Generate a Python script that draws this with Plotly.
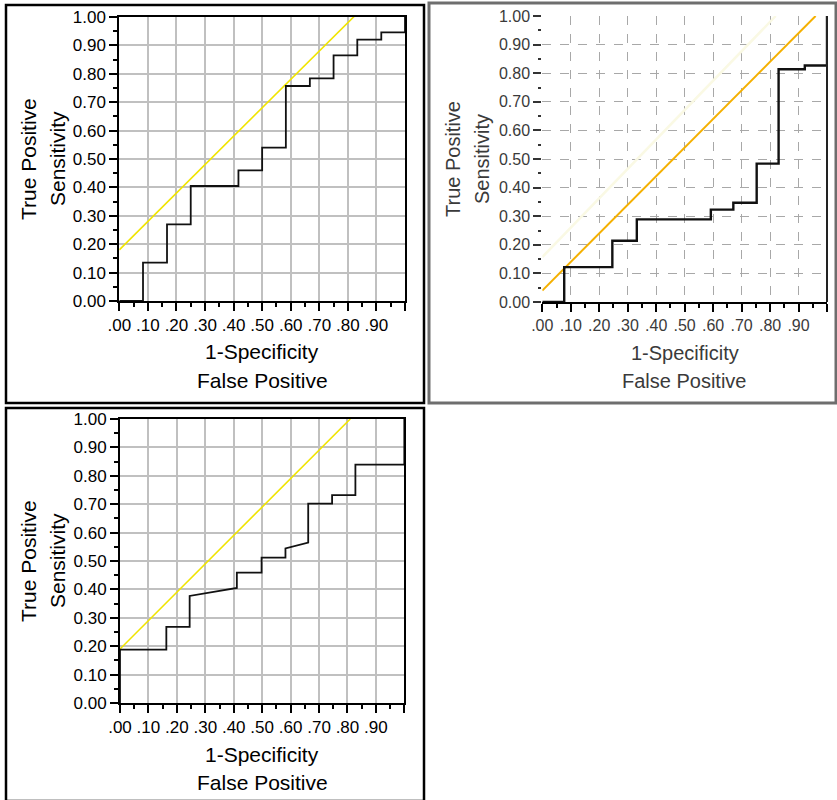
import plotly.graph_objects as go

W, H = 837, 800

# ---------------- data ----------------
# Panel A (top-left) ROC vertices
fpr_a = [0.0, 0.083, 0.083, 0.167, 0.167, 0.25, 0.25, 0.417, 0.417, 0.5, 0.5, 0.583, 0.583,
         0.667, 0.667, 0.75, 0.75, 0.833, 0.833, 0.917, 0.917, 1.0, 1.0]
tpr_a = [0.0, 0.0, 0.135, 0.135, 0.27, 0.27, 0.405, 0.405, 0.46, 0.46, 0.54, 0.54, 0.757,
         0.757, 0.784, 0.784, 0.865, 0.865, 0.92, 0.92, 0.946, 0.946, 1.0]
ref_a_x = [0.0, 0.84]
ref_a_y = [0.18, 1.02]

# Panel B (top-right) ROC vertices
fpr_b = [0.0, 0.077, 0.077, 0.246, 0.246, 0.332, 0.332, 0.592, 0.592, 0.671, 0.671, 0.753,
         0.753, 0.83, 0.83, 0.922, 0.922, 1.0, 1.0]
tpr_b = [0.0, 0.0, 0.122, 0.122, 0.214, 0.214, 0.289, 0.289, 0.323, 0.323, 0.347, 0.347,
         0.484, 0.484, 0.814, 0.814, 0.827, 0.827, 1.0]
ref_b_x = [0.0, 0.96]
ref_b_y = [0.04, 1.0]
ghost_b_x = [0.0, 0.82]
ghost_b_y = [0.157, 1.0]

# Panel C (bottom-left) ROC vertices
fpr_c = [0.0, 0.0, 0.163, 0.163, 0.245, 0.245, 0.411, 0.411, 0.498, 0.498, 0.582, 0.582,
         0.662, 0.662, 0.746, 0.746, 0.828, 0.828, 1.0, 1.0]
tpr_c = [0.0, 0.188, 0.188, 0.268, 0.268, 0.377, 0.405, 0.459, 0.459, 0.512, 0.512, 0.544,
         0.565, 0.702, 0.702, 0.732, 0.732, 0.839, 0.839, 1.0]
ref_c_x = [0.0, 0.81]
ref_c_y = [0.19, 1.0]

x_tickvals = [0.0, 0.1, 0.2, 0.3, 0.4, 0.5, 0.6, 0.7, 0.8, 0.9, 1.0]
x_ticktext = [".00", ".10", ".20", ".30", ".40", ".50", ".60", ".70", ".80", ".90", ""]
y_tickvals = [0.0, 0.1, 0.2, 0.3, 0.4, 0.5, 0.6, 0.7, 0.8, 0.9, 1.0]
y_ticktext = ["0.00", "0.10", "0.20", "0.30", "0.40", "0.50", "0.60", "0.70", "0.80", "0.90", "1.00"]
minor_vals = [0.05, 0.15, 0.25, 0.35, 0.45, 0.55, 0.65, 0.75, 0.85, 0.95]

x_title = ["1-Specificity", "False Positive"]
y_title = ["True Positive", "Sensitivity"]

FONT = "Liberation Sans, Arial, Helvetica, sans-serif"

# plot-area pixel boxes (left, right, top, bottom)
panels = {
    "a": (119.3, 405.0, 17.0, 301.0),
    "b": (542.3, 827.0, 16.0, 302.0),
    "c": (120.0, 404.3, 419.0, 703.0),
}


def dom(p):
    l, r, t, b = p
    return [l / W, r / W], [1 - b / H, 1 - t / H]


fig = go.Figure()

fig.add_trace(go.Scatter(x=ref_a_x, y=ref_a_y, mode="lines", line=dict(color="#F0E400", width=1.6),
                         xaxis="x", yaxis="y", hoverinfo="skip"))
fig.add_trace(go.Scatter(x=fpr_a, y=tpr_a, mode="lines", line=dict(color="#111111", width=1.8),
                         xaxis="x", yaxis="y"))

fig.add_trace(go.Scatter(x=ghost_b_x, y=ghost_b_y, mode="lines", line=dict(color="#FAF9E4", width=2.5),
                         xaxis="x2", yaxis="y2", hoverinfo="skip"))
fig.add_trace(go.Scatter(x=ref_b_x, y=ref_b_y, mode="lines", line=dict(color="#F5B000", width=2),
                         xaxis="x2", yaxis="y2", hoverinfo="skip"))
fig.add_trace(go.Scatter(x=fpr_b, y=tpr_b, mode="lines", line=dict(color="#111111", width=2.4),
                         xaxis="x2", yaxis="y2"))

fig.add_trace(go.Scatter(x=ref_c_x, y=ref_c_y, mode="lines", line=dict(color="#F0E400", width=1.6),
                         xaxis="x3", yaxis="y3", hoverinfo="skip"))
fig.add_trace(go.Scatter(x=fpr_c, y=tpr_c, mode="lines", line=dict(color="#111111", width=1.8),
                         xaxis="x3", yaxis="y3"))


def xaxis(domain, anchor, dashed=False, color="#000000", fsize=17):
    d = dict(
        domain=domain, anchor=anchor, range=[0, 1], fixedrange=True, automargin=False,
        tickmode="array", tickvals=x_tickvals, ticktext=x_ticktext,
        ticks="outside", ticklen=8, tickwidth=2, tickcolor="#000000",
        tickfont=dict(family=FONT, size=fsize, color=color),
        showline=True, linewidth=2, linecolor="#000000",
        mirror=not dashed,
        showgrid=True, gridcolor="#A8A8A8" if dashed else "#C0C0C0",
        gridwidth=1 if dashed else 1.6,
        zeroline=False,
        minor=dict(tickmode="array", tickvals=minor_vals, ticks="outside", ticklen=4,
                   tickwidth=2, tickcolor="#000000", showgrid=False),
    )
    if dashed:
        d["griddash"] = "dash"
    return d


def yaxis(domain, anchor, dashed=False, color="#000000", fsize=17):
    d = dict(
        domain=domain, anchor=anchor, range=[0, 1], fixedrange=True, automargin=False,
        tickmode="array", tickvals=y_tickvals, ticktext=y_ticktext,
        ticks="outside", ticklen=8, tickwidth=2, tickcolor="#000000" if not dashed else "#333333",
        tickfont=dict(family=FONT, size=fsize, color=color),
        showline=not dashed, linewidth=2, linecolor="#000000",
        mirror=not dashed,
        showgrid=True, gridcolor="#A8A8A8" if dashed else "#C0C0C0",
        gridwidth=1 if dashed else 1.6,
        zeroline=False,
        minor=dict(tickmode="array", tickvals=minor_vals, ticks="outside", ticklen=4 if not dashed else 3,
                   tickwidth=2, tickcolor="#000000" if not dashed else "#333333", showgrid=False),
    )
    if dashed:
        d["griddash"] = "dash"
    return d


xa, ya = dom(panels["a"])
xb, yb = dom(panels["b"])
xc, yc = dom(panels["c"])

fig.update_layout(
    template="none",
    width=W, height=H, margin=dict(l=0, r=0, t=0, b=0, autoexpand=False),
    paper_bgcolor="white", plot_bgcolor="white", showlegend=False,
    xaxis=xaxis(xa, "y"), yaxis=yaxis(ya, "x"),
    xaxis2=xaxis(xb, "y2", dashed=True, color="#3A3A3A", fsize=16),
    yaxis2=yaxis(yb, "x2", dashed=True, color="#3A3A3A", fsize=16),
    xaxis3=xaxis(xc, "y3"), yaxis3=yaxis(yc, "x3"),
)

shapes = []
# outer boxes
box_specs = [((6, 5, 424, 403), "#000000", 2.5), ((429, 3, 836, 403), "#6E6E6E", 3),
             ((6, 408, 424, 801), "#000000", 2.5)]
for (x0, y0, x1, y1), col, lw in box_specs:
    shapes.append(dict(type="rect", xref="paper", yref="paper", x0=x0 / W, x1=x1 / W,
                       y0=1 - y1 / H, y1=1 - y0 / H, line=dict(color=col, width=lw),
                       fillcolor="rgba(0,0,0,0)", layer="above"))
# right border of panel B plot area
shapes.append(dict(type="line", xref="x2 domain", yref="y2 domain", x0=1, x1=1, y0=0, y1=1,
                   line=dict(color="#222222", width=2)))
fig.update_layout(shapes=shapes)

annots = []
for key, col in (("a", "#000000"), ("b", "#3A3A3A"), ("c", "#000000")):
    l, r, t, b = panels[key]
    cx = (l + r) / 2
    cy = (t + b) / 2
    xoff = 0 if key != "b" else 425
    for i, txt in enumerate(x_title):
        annots.append(dict(text=txt, xref="paper", yref="paper", x=cx / W, y=1 - (b + 51 + 28 * i) / H,
                           xanchor="center", yanchor="middle", showarrow=False,
                           font=dict(family=FONT, size=21 if key != "b" else 20, color=col)))
    for i, txt in enumerate(y_title):
        annots.append(dict(text=txt, xref="paper", yref="paper", x=(xoff + 28 + 29 * i) / W, y=1 - cy / H,
                           xanchor="center", yanchor="middle", showarrow=False, textangle=-90,
                           font=dict(family=FONT, size=21 if key != "b" else 20, color=col)))
fig.update_layout(annotations=annots)

fig.write_html(
    "out.html",
    post_script="document.body.style.margin='0px';document.body.style.overflow='hidden';",
)
